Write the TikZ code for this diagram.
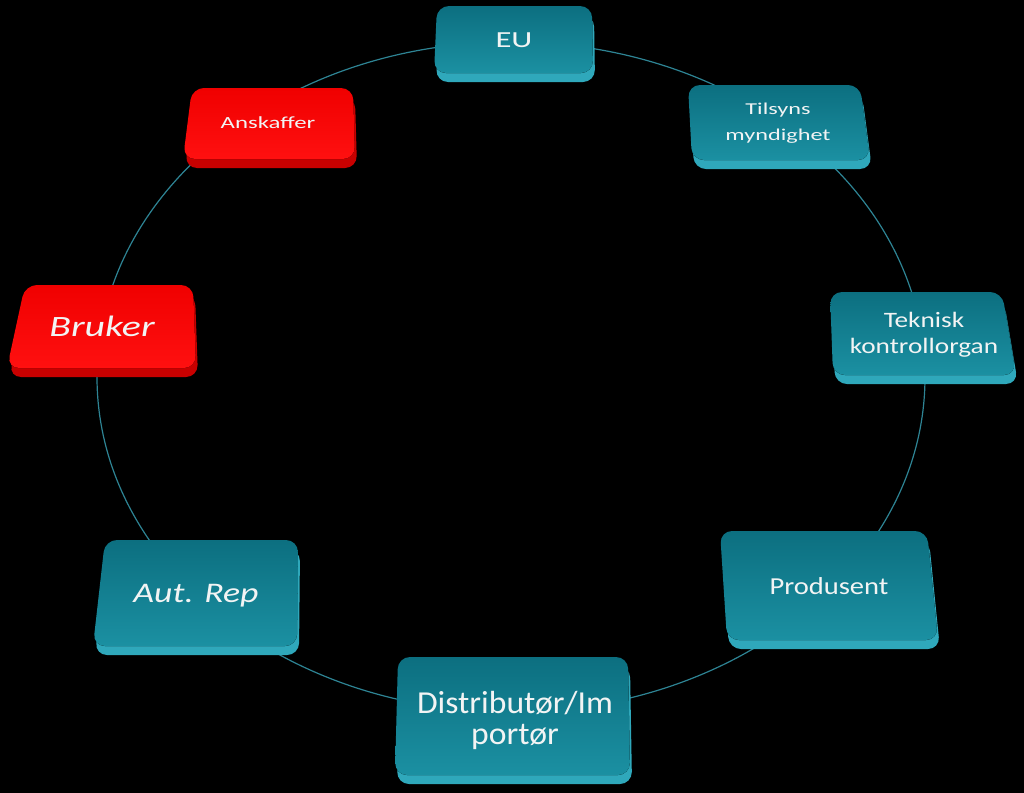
\documentclass[tikz,border=0pt]{standalone}
\usepackage{graphicx}
\usepackage{fontspec}
\setmainfont{Carlito}
\definecolor{ringline}{HTML}{2E8494}
\definecolor{tealtop}{HTML}{0C6F80}
\definecolor{tealbot}{HTML}{1B90A2}
\definecolor{tealrim}{HTML}{2FA8BB}
\definecolor{redtop}{HTML}{F00000}
\definecolor{redbot}{HTML}{FF1010}
\definecolor{redrim}{HTML}{C80000}
\definecolor{lbltext}{HTML}{F2F4F4}
\tikzset{
  face/.style={rounded corners=6pt},
  tealbox/.style={face, top color=tealtop, bottom color=tealbot},
  tealedge/.style={face, fill=tealrim, shift={(2,9)}},
  redbox/.style={face, top color=redtop, bottom color=redbot},
  rededge/.style={face, fill=redrim, shift={(2,9)}},
  lbl/.style={text=lbltext, align=center, inner sep=0pt, anchor=base}
}
\begin{document}
\begin{tikzpicture}[x=0.5pt,y=-0.5pt]
\fill[black] (0,0) rectangle (1024,793);
\useasboundingbox (0,0) rectangle (1024,793);
% the ring behind the boxes
\draw[ringline, line width=0.6pt] (511,377) ellipse [x radius=414, y radius=335];
% EU
\fill[tealedge] (437,6) -- (592,6) -- (593,73) -- (434,73) -- cycle;
\fill[tealbox] (437,6) -- (592,6) -- (593,73) -- (434,73) -- cycle;
\node[lbl, font=\fontsize{11.5}{13}\selectfont] (eu) at (514,47) {\scalebox{1.42}[1]{EU}};
% Tilsyn
\fill[tealedge] (688,85) -- (860,85) -- (870,160) -- (692,160) -- cycle;
\fill[tealbox] (688,85) -- (860,85) -- (870,160) -- (692,160) -- cycle;
\node[lbl, font=\fontsize{8.3}{13}\selectfont] (tilsyn) at (778,140)
  {\scalebox{1.46}[1]{Tilsyns}\\\scalebox{1.46}[1]{myndighet}};
% Teknisk
\fill[tealedge] (830,292) -- (1002,292) -- (1016,375) -- (833,375) -- cycle;
\fill[tealbox] (830,292) -- (1002,292) -- (1016,375) -- (833,375) -- cycle;
\node[lbl, font=\fontsize{11}{12.8}\selectfont] (teknisk) at (924,353)
  {\scalebox{1.24}[1]{Teknisk}\\\scalebox{1.24}[1]{kontrollorgan}};
% Produsent
\fill[tealedge] (720,531) -- (927,531) -- (938,640) -- (727,640) -- cycle;
\fill[tealbox] (720,531) -- (927,531) -- (938,640) -- (727,640) -- cycle;
\node[lbl, font=\fontsize{12.2}{14}\selectfont] (produsent) at (829,594) {\scalebox{1.17}[1]{Produsent}};
% Distributor
\fill[tealedge] (398,657) -- (628,657) -- (630,775) -- (395,775) -- cycle;
\fill[tealbox] (398,657) -- (628,657) -- (630,775) -- (395,775) -- cycle;
\node[lbl, font=\fontsize{16}{15.5}\selectfont] (distributor) at (515,744)
  {\scalebox{1.05}[1]{Distributør/Im}\\\scalebox{1.05}[1]{portør}};
% Aut. Rep
\fill[tealedge] (105,540) -- (298,540) -- (297,646) -- (93,646) -- cycle;
\fill[tealbox] (105,540) -- (298,540) -- (297,646) -- (93,646) -- cycle;
\node[lbl, font=\fontsize{14.2}{16}\selectfont\itshape] (autrep) at (196,602) {\scalebox{1.26}[1]{Aut. Rep}};
% Bruker
\fill[rededge] (25,285) -- (193,285) -- (196,368) -- (7,368) -- cycle;
\fill[redbox] (25,285) -- (193,285) -- (196,368) -- (7,368) -- cycle;
\node[lbl, font=\fontsize{14.75}{16}\selectfont\itshape] (bruker) at (102,336) {\scalebox{1.35}[1]{Bruker}};
% Anskaffer
\fill[rededge] (192,88) -- (353,88) -- (355,159) -- (183,159) -- cycle;
\fill[redbox] (192,88) -- (353,88) -- (355,159) -- (183,159) -- cycle;
\node[lbl, font=\fontsize{8.5}{10}\selectfont] (anskaffer) at (268,128) {\scalebox{1.46}[1]{Anskaffer}};
\end{tikzpicture}
\end{document}
